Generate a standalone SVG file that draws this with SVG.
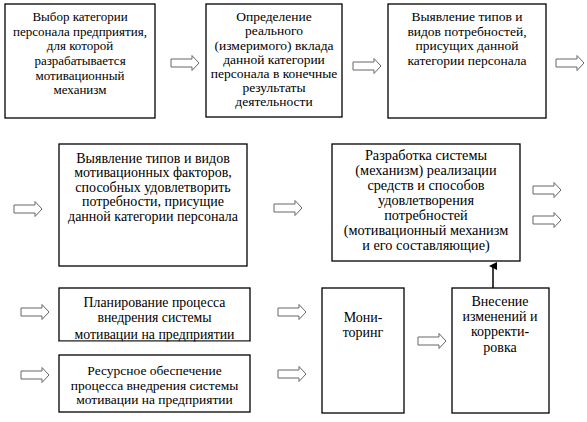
<svg xmlns="http://www.w3.org/2000/svg" width="587" height="422" viewBox="0 0 587 422">
<style>
.box{fill:#fff;stroke:#000;stroke-width:1.3}
text{font-family:'Liberation Serif','Times New Roman',serif;font-size:13.5px;fill:#000;text-anchor:middle}
.ar{fill:#fff;stroke:#666;stroke-width:1}
</style>
<defs>
<path id="bar" class="ar" d="M0,-4 H21 V-7.5 L28,0 L21,7.5 V4 H0 Z"/>
<marker id="head" markerWidth="8" markerHeight="8" refX="4" refY="4" orient="auto" markerUnits="userSpaceOnUse">
<path d="M0,8 L4,0 L8,8 Z" fill="#000"/>
</marker>
</defs>
<rect width="587" height="422" fill="#fff"/>

<g id="n1">
<rect class="box" x="5" y="4" width="150" height="114"/>
<text style="font-size:13px"><tspan x="80" y="21">Выбор категории</tspan><tspan x="80" y="36">персонала предприятия,</tspan><tspan x="80" y="50">для которой</tspan><tspan x="80" y="65">разрабатывается</tspan><tspan x="80" y="80">мотивационный</tspan><tspan x="80" y="94">механизм</tspan></text>
</g>
<g id="n2">
<rect class="box" x="206" y="4" width="136" height="113"/>
<text><tspan x="274" y="21">Определение</tspan><tspan x="274" y="35">реального</tspan><tspan x="274" y="50">(измеримого) вклада</tspan><tspan x="274" y="64">данной категории</tspan><tspan x="274" y="78">персонала в конечные</tspan><tspan x="274" y="92">результаты</tspan><tspan x="274" y="106">деятельности</tspan></text>
</g>
<g id="n3">
<rect class="box" x="388" y="4" width="158" height="114"/>
<text><tspan x="467" y="21">Выявление типов и</tspan><tspan x="467" y="36">видов потребностей,</tspan><tspan x="467" y="50">присущих данной</tspan><tspan x="467" y="65">категории персонала</tspan></text>
</g>
<g id="n4">
<rect class="box" x="59" y="144" width="188" height="122"/>
<text style="font-size:14px"><tspan x="153" y="162.5">Выявление типов и видов</tspan><tspan x="153" y="177">мотивационных факторов,</tspan><tspan x="153" y="191.5">способных удовлетворить</tspan><tspan x="153" y="206">потребности, присущие</tspan><tspan x="153" y="220.5">данной категории персонала</tspan></text>
</g>
<g id="n5">
<rect class="box" x="332" y="144" width="188" height="117"/>
<text style="font-size:14.3px"><tspan x="426" y="160">Разработка системы</tspan><tspan x="426" y="175">(механизм) реализации</tspan><tspan x="426" y="190">средств и способов</tspan><tspan x="426" y="205">удовлетворения</tspan><tspan x="426" y="220">потребностей</tspan><tspan x="426" y="235">(мотивационный механизм</tspan><tspan x="426" y="250">и его составляющие)</tspan></text>
</g>
<g id="n6">
<text style="font-size:13.8px"><tspan x="154.5" y="307">Планирование процесса</tspan><tspan x="154.5" y="322">внедрения системы</tspan><tspan x="154.5" y="338.5">мотивации на предприятии</tspan></text>
<rect x="59" y="288" width="191" height="53" fill="none" stroke="#000" stroke-width="1.3"/>
<rect x="59" y="341.7" width="191" height="6" fill="#fff"/>
</g>
<g id="n7">
<rect class="box" x="59" y="355" width="191" height="57"/>
<text><tspan x="154.5" y="375">Ресурсное обеспечение</tspan><tspan x="154.5" y="390">процесса внедрения системы</tspan><tspan x="154.5" y="404">мотивации на предприятии</tspan></text>
</g>
<g id="n8">
<rect class="box" x="322" y="288" width="82" height="125"/>
<text style="font-size:14px"><tspan x="363" y="322">Мони-</tspan><tspan x="363" y="337">торинг</tspan></text>
</g>
<g id="n9">
<rect class="box" x="452" y="288" width="97" height="125"/>
<text style="font-size:14px"><tspan x="500" y="306">Внесение</tspan><tspan x="500" y="321">изменений и</tspan><tspan x="500" y="336">корректи-</tspan><tspan x="500" y="352">ровка</tspan></text>
</g>

<g id="connectors">
<use href="#bar" x="171" y="63"/>
<use href="#bar" x="353" y="66"/>
<use href="#bar" x="556" y="63"/>
<use href="#bar" x="14" y="209"/>
<use href="#bar" x="274" y="208"/>
<use href="#bar" x="533" y="190"/>
<use href="#bar" x="533" y="220"/>
<use href="#bar" x="21" y="312"/>
<use href="#bar" x="21" y="375"/>
<use href="#bar" x="278" y="312"/>
<use href="#bar" x="278" y="374"/>
<use href="#bar" x="418" y="341"/>
<line x1="493" y1="288" x2="493" y2="266" stroke="#000" stroke-width="1.5" marker-end="url(#head)"/>
</g>
</svg>
